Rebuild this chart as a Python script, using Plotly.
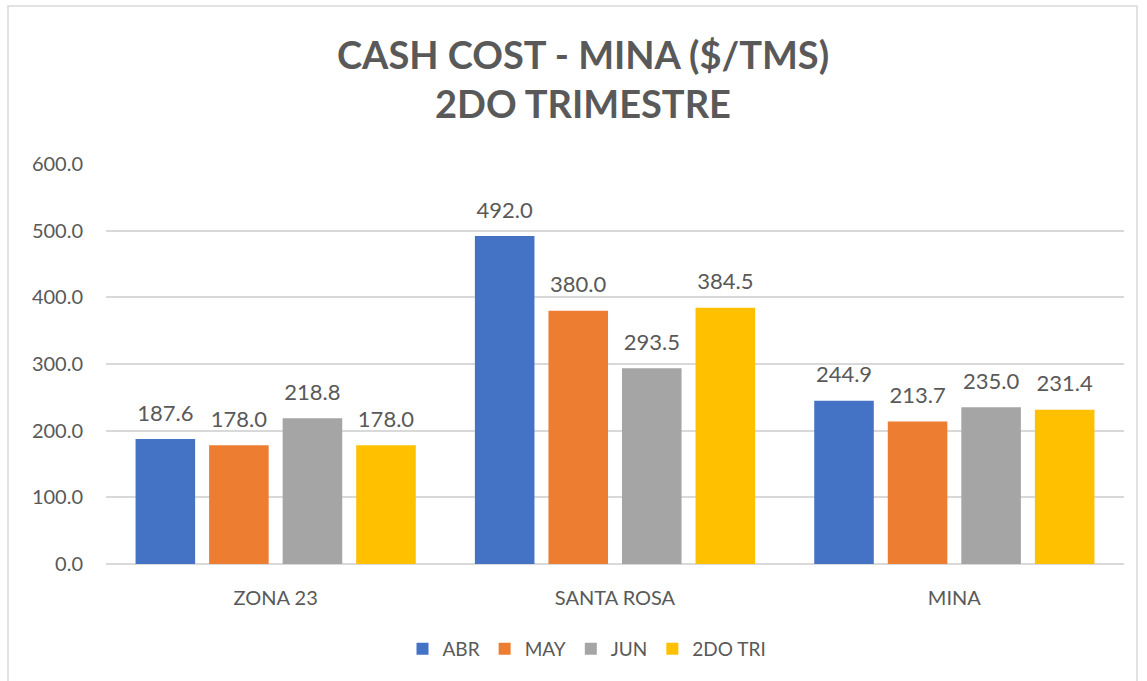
import plotly.graph_objects as go

categories = ["ZONA 23", "SANTA ROSA", "MINA"]
series_names = ["ABR", "MAY", "JUN", "2DO TRI"]
abr = [187.6, 492.0, 244.9]
may = [178.0, 380.0, 213.7]
jun = [218.8, 293.5, 235.0]
tri2 = [178.0, 384.5, 231.4]
colors = ["#4472C4", "#ED7D31", "#A5A5A5", "#FFC000"]
tick_vals = [0, 100, 200, 300, 400, 500, 600]

W, H = 1147, 681
L, R, T, B = 106, 23, 164, 117
pw = W - L - R
ph = H - T - B
FONT = "Lato, Open Sans, sans-serif"
GREY = "#595959"

def px_x(p):
    return (p - L) / pw

def px_y(p):
    return (H - B - p) / ph

fig = go.Figure()
series = [abr, may, jun, tri2]
for name, vals, col in zip(series_names, series, colors):
    fig.add_trace(go.Bar(
        name=name, x=categories, y=vals,
        marker=dict(color=col, line=dict(width=0)),
        hoverinfo="x+y",
    ))
for name, vals in zip(series_names, series):
    fig.add_trace(go.Scatter(
        name=name, x=categories, y=vals, mode="markers+text",
        marker=dict(size=19, opacity=0),
        text=[f"{v:.1f}" for v in vals], textposition="top center",
        textfont=dict(family=FONT, size=22, color=GREY),
        showlegend=False, cliponaxis=False, hoverinfo="skip",
    ))

fig.update_layout(
    width=W, height=H,
    margin=dict(l=L, r=R, t=T, b=B, autoexpand=False),
    paper_bgcolor="white", plot_bgcolor="white",
    barmode="group", bargap=0.133, bargroupgap=0.19,
    scattermode="group", scattergap=0.133,
    font=dict(family=FONT, color=GREY),
    title=dict(
        text="CASH COST - MINA ($/TMS)<br>2DO TRIMESTRE",
        x=(583) / W, xanchor="center", y=1 - 69 / H, yanchor="middle",
        font=dict(family=FONT, size=38, color=GREY, weight="bold"),
    ),
    xaxis=dict(showgrid=False, showline=False, ticks="", zeroline=False,
               tickfont=dict(size=20, color=GREY), ticklabelstandoff=20),
    yaxis=dict(range=[0, 600], tickvals=tick_vals, tickformat=".1f",
               showgrid=True, gridcolor="#D9D9D9", gridwidth=1.5,
               zeroline=True, zerolinecolor="#D9D9D9", zerolinewidth=1.5,
               showline=False, ticks="", ticklabelstandoff=22,
               tickfont=dict(size=20, color=GREY)),
    legend=dict(orientation="h", x=px_x(587), xanchor="center", y=px_y(649), yanchor="middle",
                font=dict(size=19, color=GREY), itemwidth=30, traceorder="normal"),
    showlegend=True,
)

fig.add_shape(type="rect", xref="paper", yref="paper",
              x0=px_x(8), x1=px_x(1137), y0=px_y(690), y1=px_y(6),
              line=dict(color="#D9D9D9", width=1.5), fillcolor="rgba(0,0,0,0)", layer="below")

fig.write_html("out.html", post_script="document.body.style.margin='0px';",
               config={"displayModeBar": False})
